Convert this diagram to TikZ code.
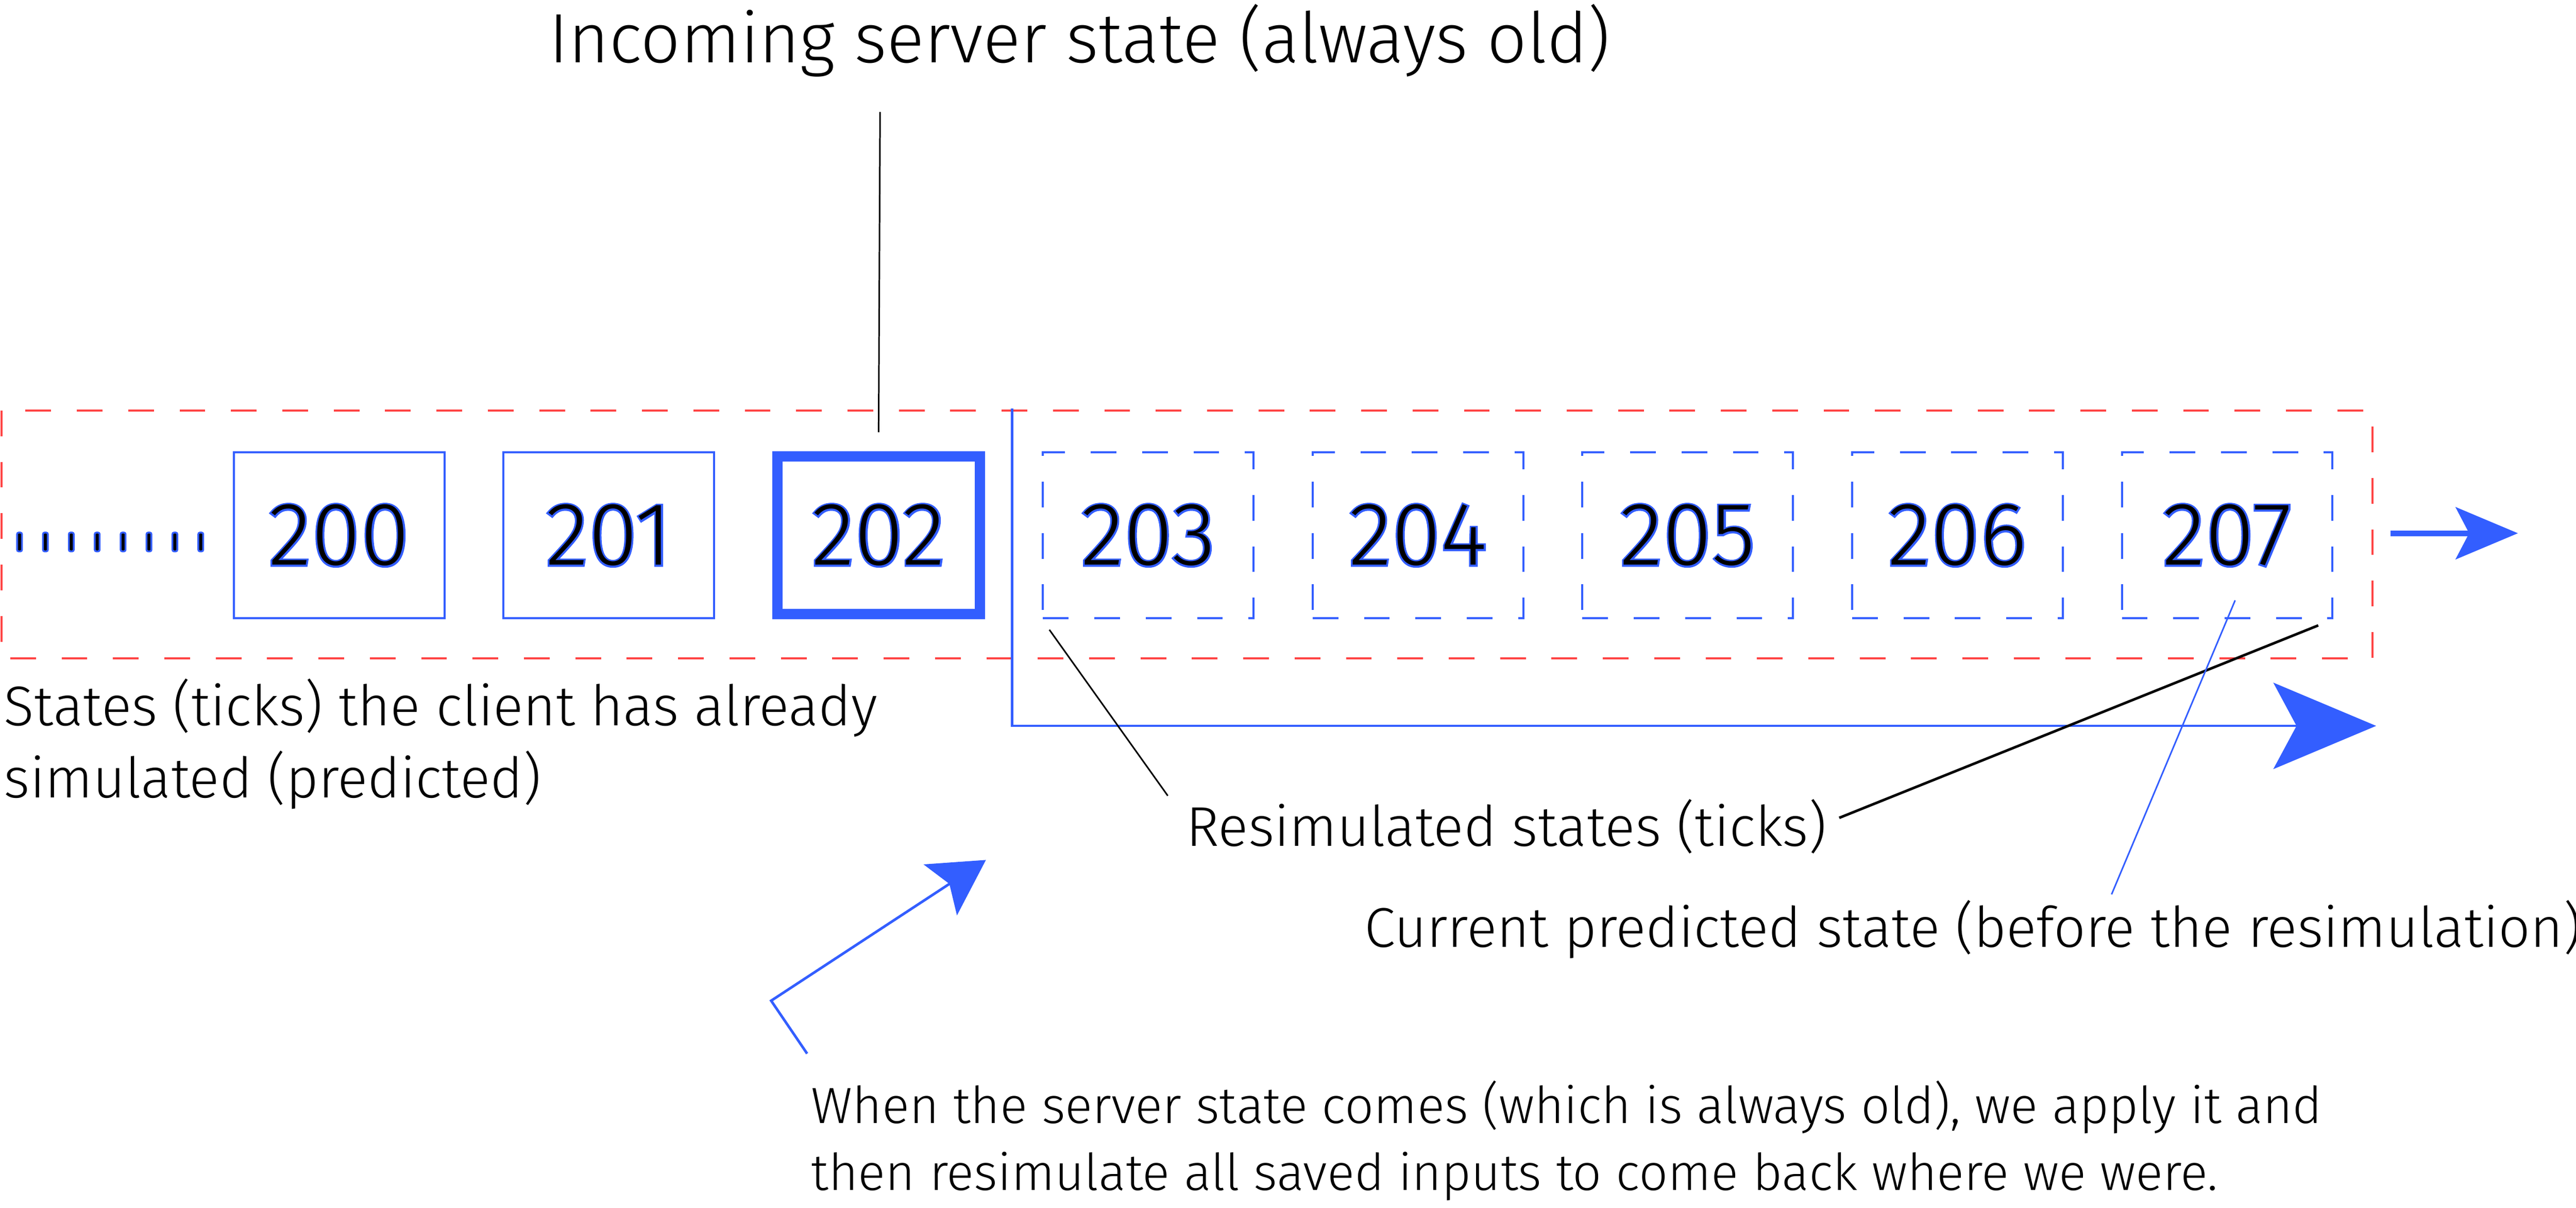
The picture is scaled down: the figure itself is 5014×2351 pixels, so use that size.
\documentclass[tikz,border=0pt]{standalone}
\usepackage{fontspec}
\setmainfont{Fira Sans Light}
\newfontfamily\ticknumfont{Fira Sans Light}
\newfontfamily\ticknumhalo{Fira Sans Light}[FakeBold=4]
\usepackage{tikz}
\usetikzlibrary{arrows.meta,positioning}
\definecolor{tickblue}{RGB}{51,94,255}
\definecolor{framered}{RGB}{255,68,68}
\newcommand{\ticknum}[1]{\rlap{\ticknumhalo\color{tickblue}#1}{\ticknumfont#1}}

\begin{document}
\begin{tikzpicture}[x=0.1pt,y=0.1pt,yscale=-1,
  tickbox/.style={draw=tickblue,line width=0.4pt,minimum width=41pt,minimum height=32.3pt,inner sep=0pt,font=\fontsize{17.4pt}{20pt}\selectfont},
  keybox/.style={line width=2pt,minimum width=39.4pt,minimum height=30.7pt},
  resimbox/.style={dash pattern=on 5pt off 5pt},
  histdot/.style={rectangle,fill=black,draw=tickblue,line width=0.35pt,minimum width=0.95pt,minimum height=3.65pt,rounded corners=0.3pt,inner sep=0pt},
  titletext/.style={inner sep=0pt,font=\fontsize{13.6pt}{16pt}\selectfont},
  labeltext/.style={inner sep=0pt,font=\fontsize{10.9pt}{14.1pt}\selectfont},
  notetext/.style={inner sep=0pt,font=\fontsize{9.9pt}{13pt}\selectfont},
  leadline/.style={draw=black,line width=0.3pt},
  bluelead/.style={draw=tickblue,line width=0.3pt}]
\useasboundingbox (0,0) rectangle (5014,2351);

%Frame: predicted states
\draw [framered,line width=0.4pt,dash pattern=on 5pt off 5pt] (3,799) rectangle (4618,1282);

%Dots: older ticks
\foreach \k in {0,...,7}
  \node[histdot] (dot\k) at ({38+50.4*\k},1055) {};

%Boxes: ticks
\foreach \n/\x in {200/660,201/1185}
  \node[tickbox] (t\n) at (\x,1042) {\ticknum{\n}};
\node[tickbox,keybox] (t202) at (1710,1042) {\ticknum{202}};
\foreach \n/\x in {203/2235,204/2760,205/3285,206/3810,207/4335}
  \node[tickbox,resimbox] (t\n) at (\x,1042) {\ticknum{\n}};

%Arrow: resimulation
\coordinate (resimtop) at (1970,795);
\coordinate (resimend) at (4625,1413);
\draw [tickblue,line width=0.45pt,-{Stealth[length=20pt,width=16.8pt,inset=4.5pt]}] (resimtop) |- (resimend);

%Arrow: next ticks
\coordinate (nextstart) at (4653,1038);
\coordinate (nextend) at (4901,1038);
\draw [tickblue,line width=1.1pt,-{Stealth[length=12.1pt,width=10.1pt,inset=2.6pt]}] (nextstart) -- (nextend);

%Texts
\node[titletext,anchor=base] (title) at (2101,122) {Incoming server state (always old)};
\node[labeltext,anchor=base west,align=left] (histnote) at (6,1553) {States (ticks) the client has already\\simulated (predicted)};
\node[labeltext,anchor=base] (resimnote) at (2932,1647) {Resimulated states (ticks)};
\node[labeltext,anchor=base] (curnote) at (3840,1844) {Current predicted state (before the resimulation)};
\node[notetext,anchor=base west,align=left] (applynote) at (1577,2317) {When the server state comes (which is always old), we apply it and\\then resimulate all saved inputs to come back where we were.};

%Lines: leads
\coordinate (titlefoot) at (1713,218);
\draw [leadline,shorten >=3.7pt] (titlefoot) -- (t202.north);
\coordinate (resimtip) at (2273,1549);
\draw [leadline,shorten <=2.5pt] (t203.south west) -- (resimtip);
\coordinate (resimhook) at (3580,1592);
\draw [leadline,line width=0.5pt,shorten <=3.2pt] (t207.south east) -- (resimhook);
\coordinate (curtip) at (4110,1741);
\draw [bluelead,shorten <=-4pt] (t207.south) -- (curtip);

%Arrow: apply
\coordinate (applyfoot) at (1571,2051);
\coordinate (applyknee) at (1501,1948);
\coordinate (applytip) at (1919,1674);
\draw [tickblue,line width=0.5pt,-{Stealth[length=10.6pt,width=11.8pt,inset=2.1pt]}] (applyfoot) -- (applyknee) -- (applytip);

\end{tikzpicture}
\end{document}
